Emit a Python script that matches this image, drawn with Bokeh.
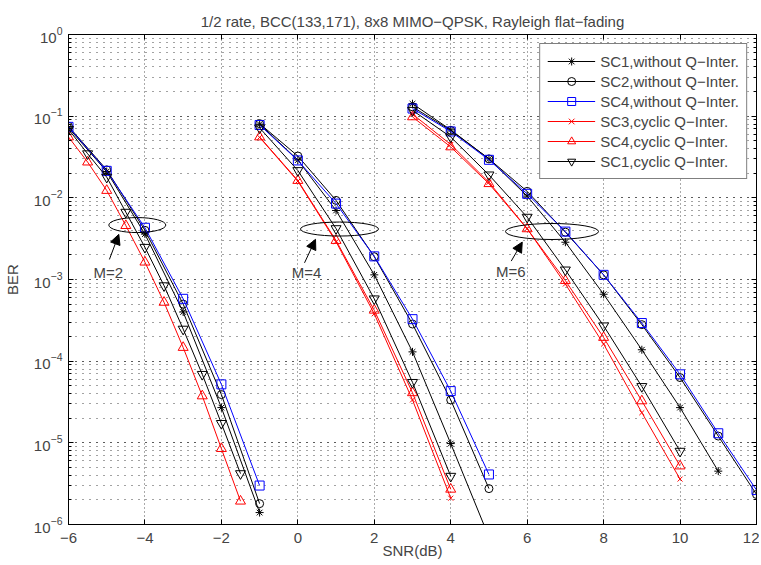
import math
from bokeh.plotting import figure
from bokeh.models import (LogAxis, LinearAxis, LogTicker, SingleIntervalTicker,
                          CustomJSTickFormatter, Legend, LegendItem, Arrow, NormalHead,
                          Label, Range1d)
from bokeh.embed import file_html
from bokeh.resources import INLINE

TITLE = "1/2 rate, BCC(133,171), 8x8 MIMO\u2212QPSK, Rayleigh flat\u2212fading"
X_LABEL = "SNR(dB)"
Y_LABEL = "BER"
X_TICK_STEP = 2
group_labels = ["M=2", "M=4", "M=6"]

# ---------------- data ----------------
# M = 2 group
snr_m2 = [-6, -5, -4, -3, -2, -1]
snr_m2_half = [-6, -5.5, -5, -4.5, -4, -3.5, -3, -2.5, -2, -1.5]
sc1_wo_m2 = [0.072, 0.021, 0.0036, 4.0e-4, 2.7e-5, 1.4e-6]
sc2_wo_m2 = [0.075, 0.022, 0.0040, 5.0e-4, 3.9e-5, 1.8e-6]
sc4_wo_m2 = [0.074, 0.0214, 0.0043, 5.8e-4, 5.2e-5, 3.0e-6]
sc4_cy_m2 = [0.0556, 0.0274, 0.0123, 0.00457, 0.00163, 5.25e-4, 1.47e-4, 3.75e-5, 8.5e-6, 1.93e-6]
sc1_cy_m2 = [0.069, 0.0347, 0.0179, 0.00667, 0.00248, 8.4e-4, 2.47e-4, 6.9e-5, 1.73e-5, 4.2e-6]

# M = 4 group
snr_m4 = [-1, 0, 1, 2, 3, 4, 5]
snr_m4_short = [-1, 0, 1, 2, 3, 4]
sc1_wo_m4 = [0.080, 0.029, 0.0070, 0.00114, 1.3e-4, 9.8e-6, 7.0e-7]
sc2_wo_m4 = [0.081, 0.0325, 0.0093, 0.0019, 2.85e-4, 3.35e-5, 2.75e-6]
sc4_wo_m4 = [0.078, 0.0287, 0.0085, 0.00192, 3.27e-4, 4.3e-5, 4.1e-6]
sc3_cy_m4 = [0.055, 0.0160, 0.0029, 3.8e-4, 3.35e-5, 2.1e-6]
sc4_cy_m4 = [0.0556, 0.0163, 0.0030, 4.2e-4, 4.1e-5, 2.7e-6]
sc1_cy_m4 = [0.072, 0.0216, 0.0042, 5.8e-4, 5.5e-5, 3.9e-6]

# M = 6 group
snr_m6 = [3, 4, 5, 6, 7, 8, 9, 10, 11, 12]
snr_m6_11 = [3, 4, 5, 6, 7, 8, 9, 10, 11]
snr_m6_10 = [3, 4, 5, 6, 7, 8, 9, 10]
sc1_wo_m6 = [0.142, 0.068, 0.030, 0.0105, 0.00286, 6.6e-4, 1.38e-4, 2.7e-5, 4.5e-6]
sc2_wo_m6 = [0.130, 0.067, 0.030, 0.012, 0.0038, 0.00114, 2.8e-4, 6.3e-5, 1.21e-5, 2.33e-6]
sc4_wo_m6 = [0.124, 0.065, 0.0292, 0.0112, 0.00386, 0.00114, 2.93e-4, 6.9e-5, 1.31e-5, 2.64e-6]
sc3_cy_m6 = [0.106, 0.045, 0.0155, 0.0042, 8.8e-4, 1.62e-4, 2.34e-5, 3.6e-6]
sc4_cy_m6 = [0.098, 0.042, 0.0149, 0.00417, 9.7e-4, 1.95e-4, 3.26e-5, 5.2e-6]
sc1_cy_m6 = [0.118, 0.0556, 0.0191, 0.0058, 0.00131, 2.71e-4, 4.9e-5, 7.9e-6]

series_names = ["SC1,without Q\u2212Inter.", "SC2,without Q\u2212Inter.",
                "SC4,without Q\u2212Inter.", "SC3,cyclic Q\u2212Inter.",
                "SC4,cyclic Q\u2212Inter.", "SC1,cyclic Q\u2212Inter."]
series_groups = [
    [(snr_m2, sc1_wo_m2), (snr_m4, sc1_wo_m4), (snr_m6_11, sc1_wo_m6)],
    [(snr_m2, sc2_wo_m2), (snr_m4, sc2_wo_m4), (snr_m6, sc2_wo_m6)],
    [(snr_m2, sc4_wo_m2), (snr_m4, sc4_wo_m4), (snr_m6, sc4_wo_m6)],
    [(snr_m4_short, sc3_cy_m4), (snr_m6_10, sc3_cy_m6)],
    [(snr_m2_half, sc4_cy_m2), (snr_m4_short, sc4_cy_m4), (snr_m6_10, sc4_cy_m6)],
    [(snr_m2_half, sc1_cy_m2), (snr_m4_short, sc1_cy_m4), (snr_m6_10, sc1_cy_m6)],
]
# ---------------- styles ----------------
series_colors = ["#000000", "#000000", "#0000ff", "#ff0000", "#ff0000", "#000000"]
series_markers = ["asterisk", "circle", "square", "x", "triangle", "inverted_triangle"]
series_sizes = [8, 8, 9, 7, 10, 10]

FONT = "Liberation Sans"
FS = "15px"

p = figure(width=759, height=563, output_backend="svg", toolbar_location=None,
           x_range=Range1d(-6, 12), y_range=Range1d(1e-6, 1), y_axis_type="log",
           min_border_left=68, min_border_right=3, min_border_top=34, min_border_bottom=39)
p.outline_line_color = "black"
p.outline_line_width = 1

p.title.text = TITLE
p.title.align = "center"
p.title.text_font = FONT
p.title.text_font_size = FS
p.title.text_font_style = "normal"
p.title.standoff = 10

# axes
minus_fmt = CustomJSTickFormatter(code="return tick < 0 ? '\u2212' + (-tick) : String(tick);")
xa = p.xaxis[0]
xa.ticker = SingleIntervalTicker(interval=X_TICK_STEP, num_minor_ticks=0)
xa.formatter = minus_fmt
xa.axis_label = X_LABEL
for ax in (p.xaxis[0], p.yaxis[0]):
    ax.axis_label_text_font = FONT
    ax.axis_label_text_font_size = FS
    ax.axis_label_text_font_style = "normal"
    ax.major_label_text_font = FONT
    ax.major_label_text_font_size = FS
    ax.major_tick_in = 5
    ax.major_tick_out = 0
    ax.minor_tick_in = 3
    ax.minor_tick_out = 0
    ax.axis_line_color = "black"
xa.major_label_standoff = 8
xa.axis_label_standoff = -4
ya = p.yaxis[0]
ya.ticker = LogTicker(num_minor_ticks=10)
ya.axis_label = Y_LABEL
ya.major_label_standoff = 6
ya.axis_label_standoff = 10

blank = "return '';"
top_ax = LinearAxis(ticker=SingleIntervalTicker(interval=X_TICK_STEP, num_minor_ticks=0),
                    formatter=CustomJSTickFormatter(code=blank),
                    major_tick_in=5, major_tick_out=0, minor_tick_out=0,
                    major_label_standoff=0, major_label_text_font_size="1px",
                    axis_line_color="black")
p.add_layout(top_ax, "above")
right_ax = LogAxis(ticker=LogTicker(num_minor_ticks=10),
                   formatter=CustomJSTickFormatter(code=blank),
                   major_tick_in=5, major_tick_out=0, minor_tick_in=3, minor_tick_out=0,
                   major_label_standoff=0, major_label_text_font_size="1px",
                   axis_line_color="black")
p.add_layout(right_ax, "right")

# grids
p.xgrid.grid_line_color = "#555555"
p.xgrid.grid_line_dash = "1 3"
p.xgrid.grid_line_width = 1
p.ygrid.grid_line_color = "#444444"
p.ygrid.grid_line_dash = "1 6"
p.ygrid.minor_grid_line_color = "#444444"
p.ygrid.minor_grid_line_dash = "1 6"

# series
nan = float("nan")
items = []
for name, groups, col, mk, sz in zip(series_names, series_groups, series_colors,
                                     series_markers, series_sizes):
    xs, ys = [], []
    for gx, gy in groups:
        if xs:
            xs.append(nan)
            ys.append(nan)
        xs.extend(gx)
        ys.extend(gy)
    lr = p.line(xs, ys, line_color=col, line_width=1)
    sr = p.scatter(xs, ys, marker=mk, size=sz, line_color=col, fill_color=None, line_width=1)
    items.append(LegendItem(label=name, renderers=[lr, sr]))

legend = Legend(items=items, location="top_right", margin=9, padding=7, spacing=0,
                label_height=20, glyph_height=20, glyph_width=48, label_standoff=5,
                label_text_font=FONT, label_text_font_size=FS,
                border_line_color="black", border_line_width=1,
                background_fill_color="white", background_fill_alpha=1)
p.add_layout(legend)

# group annotations (ellipse centre, ellipse px size, arrow tail/tip, label)
ell_x = [-4.20, 1.09, 6.65]
ell_y = [4.64e-3, 4.15e-3, 3.87e-3]
ell_w = [57, 78, 93]
ell_h = [15, 14, 16]
p.ellipse(x=ell_x, y=ell_y, width=ell_w, height=ell_h, width_units="screen",
          height_units="screen", fill_color=None, line_color="black", line_width=1)

arrow_tail = [(-4.93, 1.76e-3), (0.175, 1.60e-3), (5.583, 1.68e-3)]
arrow_tip = [(-4.684, 3.57e-3), (0.463, 3.10e-3), (5.871, 2.87e-3)]
label_pos = [(-4.96, 1.22e-3), (0.23, 1.23e-3), (5.573, 1.24e-3)]
for (x0, y0), (x1, y1), (lx, ly), txt in zip(arrow_tail, arrow_tip, label_pos, group_labels):
    p.add_layout(Arrow(end=NormalHead(size=10, fill_color="black", line_color="black"),
                       x_start=x0, y_start=y0, x_end=x1, y_end=y1,
                       line_color="black", line_width=1))
    p.add_layout(Label(x=lx, y=ly, text=txt, text_align="center", text_baseline="middle",
                       text_font=FONT, text_font_size=FS))

with open("out.html", "w", encoding="utf-8") as f:
    f.write(file_html(p, INLINE))
